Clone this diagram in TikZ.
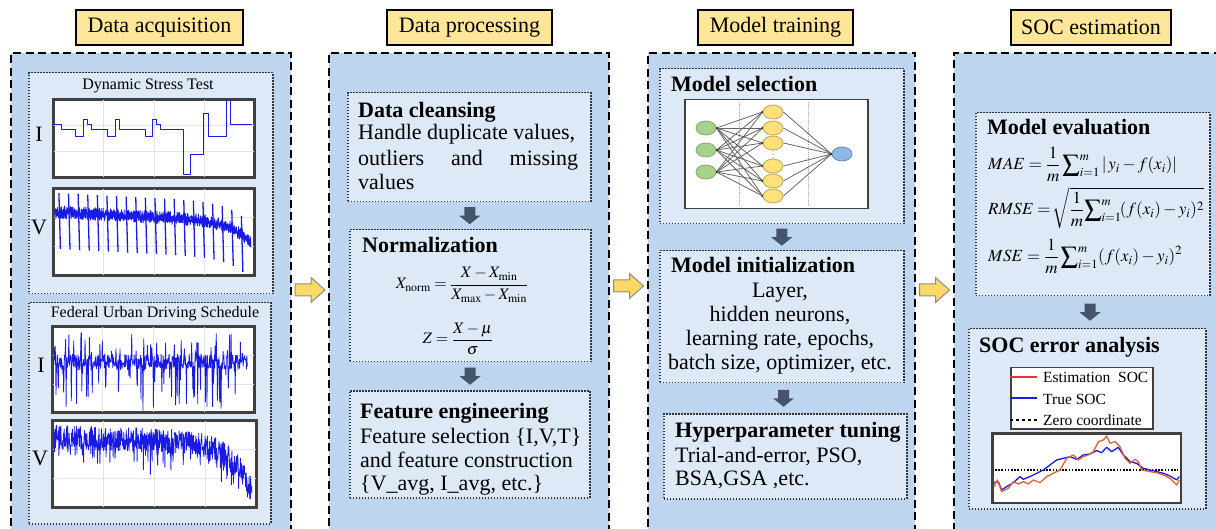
\documentclass[tikz,border=0pt]{standalone}
\usepackage{mathptmx}
\usepackage{fontspec}
\setmainfont{Liberation Serif}
\usetikzlibrary{shapes.geometric,calc}

\definecolor{panelblue}{HTML}{BDD5EE}
\definecolor{cardblue}{HTML}{DDE9F6}
\definecolor{titlegold}{HTML}{FFE699}
\definecolor{flowgold}{HTML}{FFD966}
\definecolor{flowedge}{HTML}{8C8C8C}
\definecolor{stepslate}{HTML}{44546A}
\definecolor{traceblue}{HTML}{1A1AE6}
\definecolor{estred}{HTML}{E8602C}
\definecolor{legred}{HTML}{F03030}
\definecolor{gridgray}{HTML}{E3E3E3}
\definecolor{nngreen}{HTML}{A9D18E}
\definecolor{nnyellow}{HTML}{FFE07A}
\definecolor{nnblue}{HTML}{8DB8E8}

\pgfdeclarelayer{front}
\pgfsetlayers{main,front}

\begin{document}
\begin{tikzpicture}[x=1pt,y=-1pt,
  panel/.style={draw=black, line width=2pt, dash pattern=on 8pt off 4.5pt,
    fill=panelblue, anchor=north west, inner sep=0pt},
  card/.style={draw=black!80, line width=1.5pt, dash pattern=on 1.5pt off 1.5pt,
    fill=cardblue, anchor=north west, inner sep=0pt},
  stagetitle/.style={draw=black, line width=1.5pt, fill=titlegold, inner sep=0pt,
    font=\fontsize{22}{26}\selectfont},
  plotframe/.style={draw=black!75, line width=1.8pt, fill=white, anchor=north west, inner sep=0pt},
  frameline/.style={draw=black!75, line width=1.8pt},
  gridline/.style={draw=gridgray, line width=0.6pt},
  trace/.style={draw=traceblue, line width=0.9pt, line join=round},
  head/.style={font=\fontsize{22}{26}\selectfont\bfseries, anchor=base west, inner sep=0pt},
  body/.style={font=\fontsize{22}{26}\selectfont, anchor=base west, inner sep=0pt},
  bodyc/.style={font=\fontsize{22}{26}\selectfont, anchor=base, inner sep=0pt},
  axislabel/.style={font=\fontsize{22}{26}\selectfont, anchor=base, inner sep=0pt},
  plottitle/.style={font=\fontsize{16}{19}\selectfont, anchor=base, inner sep=0pt},
  mathtext/.style={font=\fontsize{16}{19}\selectfont, inner sep=0pt},
  metric/.style={font=\fontsize{17}{20}\selectfont, inner sep=0pt, anchor=base west},
  legendtext/.style={font=\fontsize{15.5}{18}\selectfont, anchor=base west, inner sep=0pt},
  neuron/.style={ellipse, minimum width=20pt, minimum height=14pt, inner sep=0pt, line width=0.8pt},
  synapse/.style={draw=black!60, line width=0.8pt},
  nnguide/.style={draw=black!35, line width=0.5pt, dash pattern=on 1pt off 1pt},
  downstep/.pic={\fill[stepslate] (-5.5,-8.5) -- (5.5,-8.5) -- (5.5,0) -- (10.5,0)
    -- (0,8.5) -- (-10.5,0) -- (-5.5,0) -- cycle;},
  flowstep/.pic={\filldraw[fill=flowgold, draw=flowedge, line width=1pt]
    (-15,-6) -- (1,-6) -- (1,-12.5) -- (15,0) -- (1,12.5) -- (1,6) -- (-15,6) -- cycle;}
]
\useasboundingbox (0,0) rectangle (1216,529);
\clip (0,0) rectangle (1216,529);
\fill[white] (0,0) rectangle (1216,529);
\pgfmathsetseed{7}

% ---------------- stage panels and titles ----------------
\node[panel, minimum width=280pt, minimum height=500pt] (acq)   at (10,52)  {};
\node[panel, minimum width=280pt, minimum height=500pt] (proc)  at (328,52) {};
\node[panel, minimum width=267pt, minimum height=500pt] (train) at (647,52) {};
\node[panel, minimum width=290pt, minimum height=500pt] (soc)   at (953,52) {};

\node[stagetitle, minimum width=167pt, minimum height=35pt] (tacq)   at (159.5,27.5) {Data acquisition};
\node[stagetitle, minimum width=165pt, minimum height=35pt] (tproc)  at (469.5,27.5) {Data processing};
\node[stagetitle, minimum width=155pt, minimum height=35pt] (ttrain) at (775.5,27.5) {Model training};
\node[stagetitle, minimum width=160pt, minimum height=35pt] (tsoc)   at (1091,27.5)  {SOC estimation};

% flow between stages
\pic at ($(acq.north east)!0.5!(proc.north west)+(0,238)$) {flowstep};
\pic at ($(proc.north east)!0.5!(train.north west)+(0,234)$) {flowstep};
\pic at ($(train.north east)!0.5!(soc.north west)+(0,238)$) {flowstep};

% ---------------- data acquisition ----------------
\node[card, minimum width=244pt, minimum height=221pt] (dst)  at (28,72)  {};
\node[card, minimum width=242pt, minimum height=221pt] (fuds) at (28,302) {};
\node[plottitle] (dstt)  at (148,90)  {Dynamic Stress Test};
\node[plottitle] (fudst) at (155,318) {Federal Urban Driving Schedule};

\node[plotframe, minimum width=200pt, minimum height=77pt] (dstI)  at (53,99)  {};
\node[plotframe, minimum width=200pt, minimum height=86pt] (dstV)  at (53,188) {};
\node[plotframe, minimum width=201pt, minimum height=85pt] (fudsI) at (52,326) {};
\node[plotframe, minimum width=203pt, minimum height=86pt] (fudsV) at (52,420) {};

\node[axislabel] (dstIl)  at (39,142) {I};
\node[axislabel] (dstVl)  at (39,235) {V};
\node[axislabel] (fudsIl) at (41,373) {I};
\node[axislabel] (fudsVl) at (40,465) {V};

\foreach \p in {dstI,dstV,fudsI,fudsV}{
  \foreach \f in {0.25,0.5,0.75}
    \draw[gridline] ($(\p.north west)!\f!(\p.north east)$) -- ($(\p.south west)!\f!(\p.south east)$);
  \foreach \f in {0.333,0.667}
    \draw[gridline] ($(\p.north west)!\f!(\p.south west)$) -- ($(\p.north east)!\f!(\p.south east)$);
}

% DST current: step profile
\begin{scope}[x=0.3333pt, y=-0.3333pt]
\draw[trace, line width=1pt] (160,375) -- (185,375) -- (185,390) -- (228,390) -- (228,410) -- (250,410)
  -- (250,358) -- (262,358) -- (262,375) -- (275,375) -- (275,390) -- (322,390) -- (322,410)
  -- (348,410) -- (348,358) -- (358,358) -- (358,390) -- (438,390) -- (438,410) -- (458,410)
  -- (458,358) -- (470,358) -- (470,375) -- (482,375) -- (482,390) -- (552,390) -- (552,525)
  -- (572,525) -- (572,465) -- (612,465) -- (612,340) -- (625,340) -- (625,410) -- (680,410)
  -- (680,298) -- (693,298) -- (693,375) -- (755,375);
\end{scope}

% DST voltage: dense noisy band with periodic pulses
\begin{scope}
\clip (dstV.north west) rectangle (dstV.south east);
\draw[trace, line width=0.8pt] plot[variable=\t, domain=0:1, samples=700]
  ({55+196*\t},{212+10*\t+22*\t^10+6.5*rand});
\draw[trace, line width=0.8pt] plot[variable=\t, domain=0:1, samples=500]
  ({55+196*\t},{212+10*\t+22*\t^10+4*rand});
\foreach \k in {0,...,19}{
  \pgfmathsetmacro\spkT{0.02+0.049*\k}
  \pgfmathsetmacro\spkB{212+10*\spkT+22*\spkT^10}
  \draw[trace, line width=1.3pt] ({55+196*\spkT},{\spkB-19}) -- ({56.5+196*\spkT},{\spkB+37});
}
\end{scope}

% FUDS current
\begin{scope}
\clip (fudsI.north west) rectangle (fudsI.south east);
\draw[trace, line width=0.8pt] plot[variable=\t, domain=0:1, samples=480]
  ({54+194*\t},{362+8*rand+(rnd>0.72)*(70*rnd-27)});
\end{scope}

% FUDS voltage
\begin{scope}
\clip (fudsV.north west) rectangle (fudsV.south east);
\draw[trace, line width=0.8pt] plot[variable=\t, domain=0:1, samples=650]
  ({54+198*\t},{437+6*\t+46*\t^9+12*rand+(rnd>0.78)*24*rnd});
\end{scope}

\foreach \p in {dstI,dstV,fudsI,fudsV}
  \draw[frameline] (\p.north west) rectangle (\p.south east);

% ---------------- data processing ----------------
\node[card, minimum width=243pt, minimum height=109pt] (clean) at (347,92)  {};
\node[card, minimum width=241pt, minimum height=132pt] (norm)  at (349,229) {};
\node[card, minimum width=240pt, minimum height=107pt] (feat)  at (349,390) {};

\pic at ($(clean.south)!0.5!(norm.north)$) {downstep};
\pic at ($(norm.south)!0.5!(feat.north)$) {downstep};

\node[head] (cleanh) at (358,118) {Data cleansing};
\node[body] (clean1) at (358,140) {Handle duplicate values,};
\node[body] (clean2) at (358,166) {\makebox[220pt][s]{outliers and missing}};
\node[body] (clean3) at (358,190) {values};

\node[head] (normh) at (362,253) {Normalization};
\node[mathtext] (normf1) at (462,285) {$\displaystyle X_{\mathrm{norm}}=\frac{X-X_{\min}}{X_{\max}-X_{\min}}$};
\node[mathtext] (normf2) at (458,339) {$\displaystyle Z=\frac{X-\mu}{\sigma}$};

\node[head] (feath) at (360,418) {Feature engineering};
\node[body] (feat1) at (360,443) {Feature selection \{I,V,T\}};
\node[body] (feat2) at (360,467) {and feature construction};
\node[body] (feat3) at (360,490) {\{V\_avg, I\_avg, etc.\}};

% ---------------- model training ----------------
\node[card, minimum width=244pt, minimum height=155pt] (msel)  at (659,68)  {};
\node[card, minimum width=244pt, minimum height=132pt] (minit) at (659,250) {};
\node[card, minimum width=243pt, minimum height=85pt]  (hyper) at (663,413) {};

\pic at ($(msel.south)!0.5!(minit.north)$) {downstep};
\pic at ($(minit.south)!0.5!(hyper.north)$) {downstep};

\node[head] (mselh) at (671,92) {Model selection};

% network sketch
\node[plotframe, minimum width=183pt, minimum height=109pt, line width=1.5pt] (nnframe) at (684,99) {};
\draw[nnguide] (739,102) -- (739,206);
\draw[nnguide] (808,102) -- (808,206);
\begin{pgfonlayer}{front}
\foreach \i/\yy in {1/128,2/150,3/172}
  \node[neuron, fill=nngreen, draw=nngreen!80!black] (in\i) at (706,\yy) {};
\foreach \j/\yy in {1/112,2/128,3/143,4/166,5/181,6/196}
  \node[neuron, fill=nnyellow, draw=nnyellow!75!black] (h\j) at (773,\yy) {};
\node[neuron, fill=nnblue, draw=nnblue!75!black] (out) at (842,154) {};
\foreach \yy in {151,154.5,158}
  \fill[black!50] (773,\yy) circle (0.7);
\end{pgfonlayer}
\foreach \i in {1,2,3}
  \foreach \j in {1,...,6}
    \draw[synapse] (in\i.east) -- (h\j.west);
\foreach \j in {1,...,6}{
  \draw[synapse] (h\j.east) -- (out.west);
  \fill[black] (h\j.west) circle (1.3);
}
\foreach \i in {1,2,3}
  \fill[black] (in\i.east) circle (1.3);
\fill[black] (out.west) circle (1.3);

\node[head] (minith) at (671,273) {Model initialization};
\node[bodyc] (minit1) at (780,298) {Layer,};
\node[bodyc] (minit2) at (780,322) {hidden neurons,};
\node[bodyc] (minit3) at (780,346) {learning rate, epochs,};
\node[bodyc] (minit4) at (780,370) {batch size, optimizer, etc.};

\node[head] (hyperh) at (675,437) {Hyperparameter tuning};
\node[body] (hyper1) at (675,462) {Trial-and-error, PSO,};
\node[body] (hyper2) at (675,485) {BSA,GSA ,etc.};

% ---------------- SOC estimation ----------------
\node[card, minimum width=234pt, minimum height=183pt] (evalc) at (975,112) {};
\node[card, minimum width=237pt, minimum height=180pt] (err)   at (968,328) {};

\pic at ($(evalc.south)!0.5!(err.north)$) {downstep};

\node[head] (evalh) at (987,135) {Model evaluation};
\node[metric] (mae) at (988,170)
  {$\displaystyle MAE=\frac{1}{m}\sum\nolimits_{i=1}^{m}|\, y_i-f(x_i)|$};
\node[metric] (rmse) at (988,215)
  {$\displaystyle RMSE=\!\sqrt{\frac{1}{m}\!\sum\nolimits_{i=1}^{m}\!(f(x_i)-y_i)^2}$};
\node[metric] (mse) at (988,262)
  {$\displaystyle MSE=\frac{1}{m}\sum\nolimits_{i=1}^{m}(f(x_i)-y_i)^2$};

\node[head] (errh) at (979,353) {SOC error analysis};

% legend
\node[plotframe, minimum width=142pt, minimum height=61pt, line width=1.5pt] (legend) at (1010,367) {};
\draw[legred, line width=1.6pt] (1010,377) -- (1037,377);
\draw[traceblue, line width=1.6pt] (1010,398) -- (1037,398);
\draw[black, line width=1.6pt, dash pattern=on 3pt off 3pt] (1010,420) -- (1037,420);
\node[legendtext] (leg1) at (1043,383) {Estimation\ \ SOC};
\node[legendtext] (leg2) at (1043,404) {True SOC};
\node[legendtext] (leg3) at (1043,425) {Zero coordinate};

% error plot
\node[plotframe, minimum width=188pt, minimum height=69pt, line width=1.5pt] (errplot) at (992,433) {};
\begin{scope}
\clip (errplot.north west) rectangle (errplot.south east);
\draw[black, line width=1.6pt, dash pattern=on 1.6pt off 1.6pt] (995,470) -- (1178,470);
\begin{scope}[shift={(920,260)}, x=0.3333pt, y=-0.3333pt]
\draw[traceblue, line width=1.3pt, line join=round] (222,668) -- (235,665) -- (245,690) -- (260,680)
  -- (280,668) -- (300,650) -- (310,658) -- (330,650) -- (350,640) -- (370,630) -- (390,615)
  -- (410,600) -- (430,595) -- (450,590) -- (470,598) -- (490,585) -- (510,582) -- (530,572)
  -- (545,578) -- (560,562) -- (575,575) -- (595,562) -- (610,585) -- (630,605) -- (650,610)
  -- (670,625) -- (690,630) -- (710,635) -- (730,640) -- (750,648) -- (770,660) -- (778,650);
\draw[estred, line width=1.3pt, line join=round] (222,680) -- (232,660) -- (245,695) -- (265,685)
  -- (280,665) -- (295,672) -- (310,665) -- (325,672) -- (340,660) -- (360,668) -- (380,650)
  -- (400,640) -- (420,630) -- (440,595) -- (460,585) -- (475,600) -- (490,590) -- (505,585)
  -- (520,575) -- (535,545) -- (550,540) -- (560,528) -- (570,550) -- (585,545) -- (600,560)
  -- (615,595) -- (630,610) -- (645,598) -- (655,605) -- (665,630) -- (690,635) -- (710,638)
  -- (730,645) -- (750,655) -- (770,675) -- (778,660);
\end{scope}
\end{scope}
\draw[frameline, line width=1.5pt] (errplot.north west) rectangle (errplot.south east);

\end{tikzpicture}
\end{document}
